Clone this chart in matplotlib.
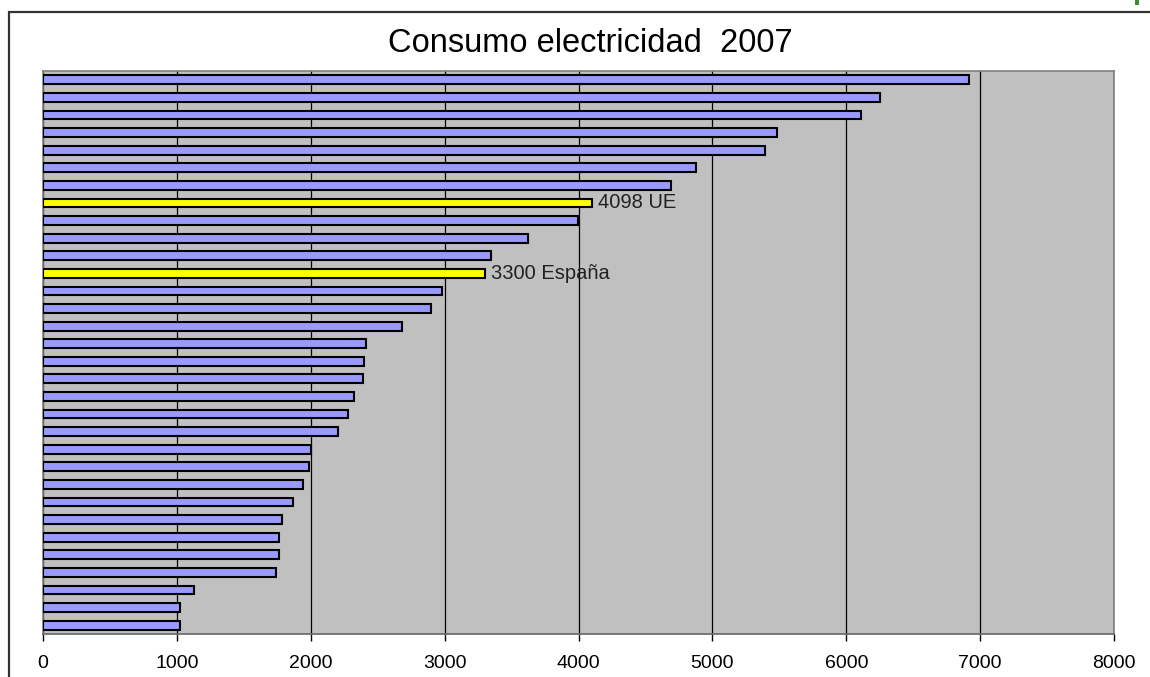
import matplotlib.pyplot as plt
from matplotlib.patches import Rectangle

plt.rcParams['font.family'] = ['Liberation Sans', 'DejaVu Sans']

# valores de arriba abajo (kWh por habitante, 2007)
consumo = [6920, 6250, 6110, 5480, 5390, 4880, 4690, 4098, 3995, 3620,
           3350, 3300, 2980, 2900, 2680, 2410, 2400, 2390, 2320, 2280,
           2205, 2000, 1990, 1943, 1870, 1787, 1762, 1762, 1738, 1130,
           1022, 1022]
destacados = {7: "4098 UE", 11: "3300 España"}
x_ticks = [0, 1000, 2000, 3000, 4000, 5000, 6000, 7000, 8000]

fig = plt.figure(figsize=(11.5, 6.77), dpi=100)
ax = fig.add_axes([43 / 1150, 1 - 634 / 677, (1114 - 43) / 1150, (634 - 71) / 677])

# marco exterior
fig.patches.append(Rectangle((8.5 / 1150, -0.05), 1.2, 1 - 11.5 / 677 + 0.05,
                             transform=fig.transFigure, fill=False,
                             edgecolor='#333333', linewidth=1.6))
# trozo verde recortado arriba a la derecha
fig.patches.append(Rectangle((1135 / 1150, 1 - 5 / 677), 4 / 1150, 5 / 677,
                             transform=fig.transFigure, color='#3C8C3C',
                             linewidth=0))

ax.set_facecolor('#C0C0C0')
pos = list(range(len(consumo)))
colores = ['#FFFF00' if i in destacados else '#9999FF' for i in pos]
ax.barh(pos, consumo, height=0.5, color=colores, edgecolor='black',
        linewidth=1.5, zorder=3)

for i, txt in destacados.items():
    ax.text(consumo[i] + 45, i, txt, va='center', ha='left', fontsize=14.5,
            color='#222222', zorder=4)

ax.set_xlim(0, 8000)
ax.set_ylim(len(consumo) - 0.5, -0.5)
ax.set_xticks(x_ticks)
ax.set_xticklabels([str(v) for v in x_ticks], fontsize=14)
ax.set_yticks([])
ax.tick_params(axis='x', direction='out', length=5, width=1, pad=10)
ax.xaxis.grid(True, color='black', linewidth=0.9, zorder=1)
ax.set_axisbelow(True)
for s in ax.spines.values():
    s.set_color('#808080')
    s.set_linewidth(1.2)
ax.spines['bottom'].set_color('#666666')

fig.text(590 / 1150, 1 - 44 / 677, "Consumo electricidad  2007", ha='center',
         va='center', fontsize=23.5)

fig.savefig("out.png", dpi=100)
